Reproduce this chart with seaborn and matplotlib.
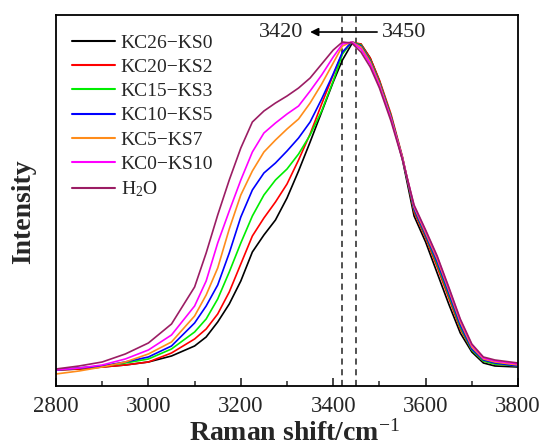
import numpy as np
import pandas as pd
import matplotlib
matplotlib.use("Agg")
import matplotlib.pyplot as plt
import seaborn as sns
from matplotlib.ticker import MultipleLocator

# ---- data (arbitrary intensity units) ----
shift = [2800, 2850, 2900, 2950, 3000, 3050, 3100, 3125, 3150, 3175, 3200, 3225,
         3250, 3275, 3300, 3325, 3350, 3375, 3400, 3420, 3440, 3460, 3480, 3500,
         3525, 3550, 3575, 3600, 3625, 3650, 3675, 3700, 3725, 3750, 3800]

kc26_ks0 = [16, 17, 19, 21, 24, 30, 40, 49, 64, 82, 105, 134, 151, 166, 188, 215, 244, 274,
            304, 326, 342, 342, 328, 305, 270, 226, 170, 144, 113, 82, 53, 34, 23, 20, 19]
kc20_ks2 = [16, 17, 19, 21, 24, 33, 47, 57, 72, 94, 122, 150, 168, 184, 202, 226, 252, 282,
            311, 333, 344, 342, 328, 306, 272, 229, 174, 148, 119, 88, 57, 36, 25, 22, 20]
kc15_ks3 = [16, 18, 20, 23, 27, 37, 54, 67, 87, 114, 143, 170, 191, 206, 217, 232, 251, 275,
            305, 332, 344, 341, 326, 304, 270, 228, 176, 150, 122, 91, 59, 36, 25, 22, 20]
kc10_ks5 = [16, 18, 20, 24, 29, 40, 63, 80, 101, 133, 169, 196, 213, 223, 235, 248, 264, 287,
            312, 334, 344, 340, 325, 303, 269, 228, 177, 151, 124, 93, 61, 37, 26, 23, 20]
kc5_ks7 = [12, 15, 19, 24, 32, 44, 70, 91, 118, 157, 191, 215, 234, 246, 257, 267, 283, 302,
           323, 340, 344, 339, 324, 302, 268, 228, 179, 153, 127, 96, 64, 39, 27, 24, 21]
kc0_ks10 = [16, 18, 21, 27, 36, 51, 80, 105, 143, 175, 206, 234, 253, 263, 272, 280, 295, 311,
            329, 342, 344, 337, 322, 300, 267, 227, 180, 155, 129, 98, 66, 41, 28, 25, 22]
h2o = [17, 20, 24, 32, 43, 62, 99, 133, 171, 206, 238, 264, 275, 283, 290, 298, 308, 322,
       336, 344, 343, 334, 319, 298, 265, 226, 181, 156, 130, 99, 67, 42, 29, 26, 23]

labels = ["KC26\u2212KS0", "KC20\u2212KS2", "KC15\u2212KS3", "KC10\u2212KS5",
          "KC5\u2212KS7", "KC0\u2212KS10", "H$_2$O"]
colors = ["#000000", "#FF0000", "#00EE00", "#0000FF", "#FF8C1A", "#FF00FF", "#9B1D64"]
series = [kc26_ks0, kc20_ks2, kc15_ks3, kc10_ks5, kc5_ks7, kc0_ks10, h2o]

peak_lines = [3420, 3450]
xticks = [2800, 3000, 3200, 3400, 3600, 3800]

df = pd.concat([pd.DataFrame({"shift": shift, "intensity": s, "sample": lab})
                for lab, s in zip(labels, series)], ignore_index=True)

# ---- style ----
sns.set_theme(style="ticks")
plt.rcParams["font.family"] = ["Liberation Serif", "DejaVu Serif"]
plt.rcParams["mathtext.fontset"] = "custom"
plt.rcParams["mathtext.rm"] = "Liberation Serif"
plt.rcParams["mathtext.it"] = "Liberation Serif:italic"
plt.rcParams["mathtext.bf"] = "Liberation Serif:bold"

fig = plt.figure(figsize=(5.4, 4.47), dpi=100)
ax = fig.add_axes([0.1037, 0.1365, 0.8556, 0.8299])

sns.lineplot(data=df, x="shift", y="intensity", hue="sample", hue_order=labels,
             palette=colors, linewidth=1.2, ax=ax, legend=True, sort=False)

for xv in peak_lines:
    ax.axvline(xv, color="#222222", linestyle=(0, (4, 3)), linewidth=1.1, zorder=0.5)

ax.annotate("", xy=(3350, 354), xytext=(3495, 354),
            arrowprops=dict(arrowstyle="-|>", color="black", lw=1.2,
                            mutation_scale=12, shrinkA=0, shrinkB=0))
ax.text(3336, 354, "3420", ha="right", va="center", fontsize=16)
ax.text(3506, 354, "3450", ha="left", va="center", fontsize=16)

ax.set_xlim(2800, 3800)
ax.set_ylim(0, 371)
ax.set_xticks(xticks)
ax.xaxis.set_minor_locator(MultipleLocator(100))
ax.set_yticks([])
ax.tick_params(axis="x", which="major", direction="in", length=6, width=1.2,
               labelsize=16.5, pad=7, top=False)
ax.tick_params(axis="x", which="minor", direction="in", length=3.5, width=1.1, top=False)
for sp in ax.spines.values():
    sp.set_visible(True)
    sp.set_linewidth(1.3)
    sp.set_color("black")

ax.set_xlabel("Raman shift/cm$^{-1}$", fontsize=20, fontweight="bold")
ax.xaxis.set_label_coords(0.517, -0.092)
ax.set_ylabel("Intensity", fontsize=20, fontweight="bold")
ax.yaxis.set_label_coords(-0.042, 0.47)

handles, labs = ax.get_legend_handles_labels()
leg = ax.legend(handles, labs, loc="upper left", frameon=False, fontsize=14,
                handlelength=2.2, handletextpad=0.3, labelspacing=0.34,
                borderaxespad=0.3, bbox_to_anchor=(0.005, 0.985))
for line in leg.get_lines():
    line.set_linewidth(1.5)

fig.savefig("out.png", dpi=100)
